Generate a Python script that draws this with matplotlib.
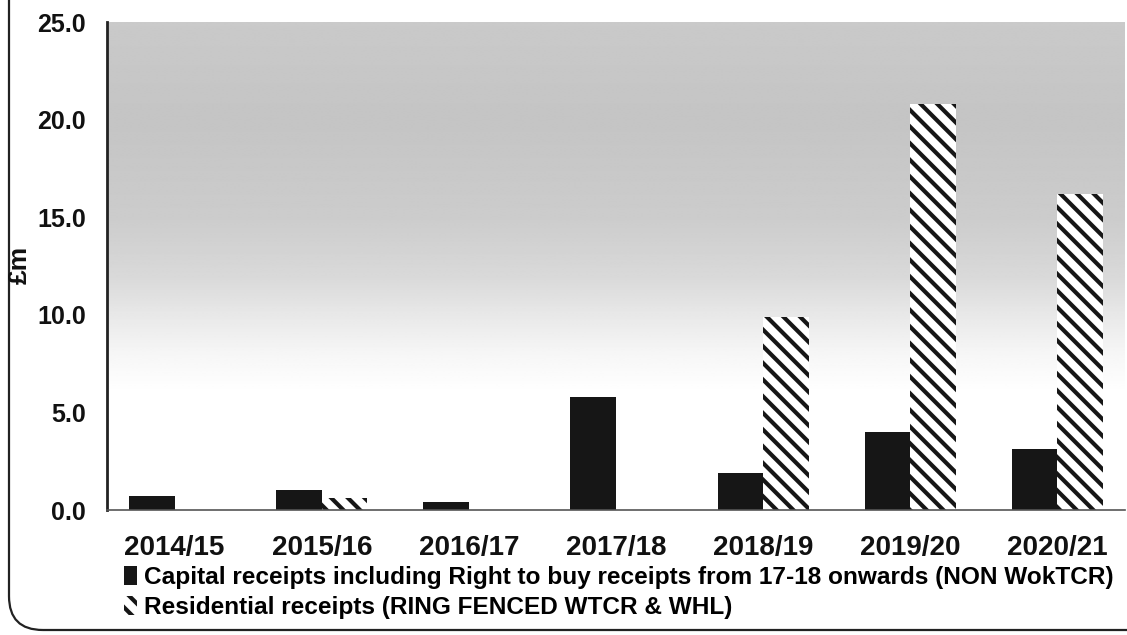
import matplotlib
matplotlib.use("Agg")
import matplotlib.pyplot as plt
import numpy as np
from matplotlib.patches import FancyBboxPatch, Patch

plt.rcParams['font.family'] = ['Liberation Sans', 'DejaVu Sans']
plt.rcParams['hatch.linewidth'] = 3.0

years = ["2014/15", "2015/16", "2016/17", "2017/18", "2018/19", "2019/20", "2020/21"]
capital = [0.7, 1.0, 0.4, 5.8, 1.9, 4.0, 3.1]
residential = [0.0, 0.6, 0.0, 0.0, 9.9, 20.8, 16.2]
yticks = [0.0, 5.0, 10.0, 15.0, 20.0, 25.0]
label_capital = "Capital receipts including Right to buy receipts from 17-18 onwards (NON WokTCR)"
label_resid = "Residential receipts (RING FENCED WTCR & WHL)"

W, H = 1127, 635
fig = plt.figure(figsize=(W / 100, H / 100), dpi=100)
ax = fig.add_axes([107 / W, 1 - 510 / H, (1125 - 107) / W, (510 - 22) / H])

x = np.arange(len(years))
bw = 0.31
xmin, xmax = -0.46, len(years) - 1 + 0.46
ax.set_xlim(xmin, xmax)
ax.set_ylim(0, 25)

# gradient background
yy = np.linspace(0, 25, 300)
g = np.interp(yy, [0, 6, 8, 10, 12, 15, 20, 25], [1.0, 1.0, 0.965, 0.91, 0.85, 0.8, 0.77, 0.79])
img = np.repeat(g[:, None], 2, axis=1)
ax.imshow(img, extent=[xmin, xmax, 0, 25], origin='lower', cmap='gray', vmin=0, vmax=1,
          aspect='auto', zorder=0, interpolation='bilinear')

ax.bar(x - bw / 2, capital, width=bw, color='#161616', edgecolor='none', zorder=2,
       label=label_capital)
ax.bar(x + bw / 2, residential, width=bw, color='white', edgecolor='#161616', hatch='\\\\',
       linewidth=0, zorder=2, label=label_resid)

ax.set_yticks(yticks)
ax.set_yticklabels([f"{v:.1f}" for v in yticks], fontsize=18, fontweight='bold', color='#111111')
ax.set_xticks(x)
ax.set_xticklabels(years, fontsize=20, fontweight='bold', color='#111111')
ax.tick_params(axis='both', length=0)
ax.tick_params(axis='y', pad=15)
ax.tick_params(axis='x', pad=18)
for s in ['top', 'right']:
    ax.spines[s].set_visible(False)
ax.spines['left'].set_color('#222222')
ax.spines['left'].set_linewidth(2)
ax.spines['bottom'].set_color('#555555')
ax.spines['bottom'].set_linewidth(1.2)

fig.text(20 / W, 1 - 265 / H, "£m", rotation=90, fontsize=19, fontweight='bold',
         ha='center', va='center', color='#111111')

handles = [Patch(facecolor='#161616', edgecolor='none'),
           Patch(facecolor='white', edgecolor='#161616', hatch='\\\\', linewidth=0)]
fig.legend(handles, [label_capital, label_resid], loc='upper left',
           bbox_to_anchor=(124 / W, 1 - 566 / H), frameon=False,
           prop={'weight': 'bold', 'size': 17.6}, handlelength=0.55, handleheight=0.8,
           handletextpad=0.25, labelspacing=0.28, borderaxespad=0, borderpad=0)

# outer rounded frame (cropped in the scan)
frame = FancyBboxPatch((9 / W, 1 - 630 / H), 1.5, 1.5, boxstyle="round,pad=0,rounding_size=0.03",
                       transform=fig.transFigure, fill=False, edgecolor='#222222', linewidth=1.6,
                       clip_on=False, mutation_aspect=W / H)
fig.patches.append(frame)

fig.savefig("out.png", dpi=100)
